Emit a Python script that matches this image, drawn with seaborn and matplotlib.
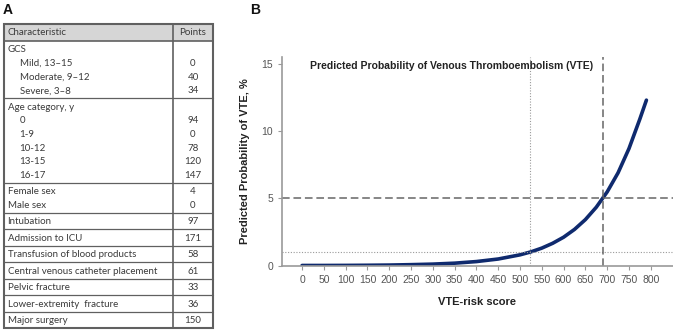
import matplotlib
matplotlib.use("Agg")
import matplotlib.pyplot as plt
import seaborn as sns
import pandas as pd
from matplotlib.patches import Rectangle

# Panel A - points table
row_labels = ["GCS", "Mild, 13\u201315", "Moderate, 9\u201312", "Severe, 3\u20138",
              "Age category, y", "0", "1-9", "10-12", "13-15", "16-17",
              "Female sex", "Male sex", "Intubation", "Admission to ICU",
              "Transfusion of blood products", "Central venous catheter placement",
              "Pelvic fracture", "Lower-extremity  fracture", "Major surgery"]
row_points = ["", "0", "40", "34", "", "94", "0", "78", "120", "147",
              "4", "0", "97", "171", "58", "61", "33", "36", "150"]
row_group = [0, 0, 0, 0, 1, 1, 1, 1, 1, 1, 2, 2, 3, 4, 5, 6, 7, 8, 9]
row_indent = [0, 1, 1, 1, 0, 1, 1, 1, 1, 1, 0, 0, 0, 0, 0, 0, 0, 0, 0]

# Panel B - predicted probability curve
vte_score = [0, 50, 100, 150, 200, 250, 300, 350, 400, 450, 500, 525, 550,
             575, 600, 625, 650, 675, 700, 725, 750, 775, 790]
vte_prob = [0.01, 0.01, 0.015, 0.025, 0.04, 0.07, 0.11, 0.18, 0.30, 0.49, 0.80,
            1.02, 1.30, 1.66, 2.11, 2.69, 3.42, 4.34, 5.48, 6.9, 8.7, 10.9, 12.3]
cut_low, cut_high = 523, 690
prob_low, prob_high = 1, 5

sns.set_style("white")
plt.rcParams['font.family'] = ['Liberation Sans', 'DejaVu Sans']

fig = plt.figure(figsize=(6.73, 3.32), dpi=100)

# ---- table ----
axA = fig.add_axes([0, 0, 1, 1])
axA.set_xlim(0, 673)
axA.set_ylim(332, 0)
axA.axis("off")

left, mid, right = 3.5, 173, 213
top, head_bot = 24, 41
txt = "#3a3a3a"
edge = "#606060"
tfont = "Lato"

axA.add_patch(Rectangle((left, top), right - left, head_bot - top, facecolor="#d6d6d6", edgecolor="none"))
axA.text(left + 4, (top + head_bot) / 2, "Characteristic", fontsize=7, family=tfont, color=txt, va="center")
axA.text((mid + right) / 2, (top + head_bot) / 2, "Points", fontsize=7, family=tfont, color=txt, va="center", ha="center")

y = head_bot
g_prev = None
row_y = y
lines = []
for lab, pts, g, ind in zip(row_labels, row_points, row_group, row_indent):
    if g != g_prev:
        if g_prev is not None:
            y = row_y + 7.5
            lines.append(y)
        row_y = y + 9
    else:
        row_y += 13.6
    g_prev = g
    axA.text(left + 4 + 12 * ind, row_y, lab, fontsize=7, family=tfont, color=txt, va="center")
    axA.text((mid + right) / 2, row_y, pts, fontsize=7, family=tfont, color=txt, va="center", ha="center")
bottom = row_y + 7.5

for ly in lines:
    axA.plot([left, right], [ly, ly], color=edge, lw=0.9)
axA.plot([left, right], [head_bot, head_bot], color=edge, lw=1.2)
axA.plot([mid, mid], [top, bottom], color=edge, lw=1.2)
axA.add_patch(Rectangle((left, top), right - left, bottom - top, facecolor="none", edgecolor=edge, lw=1.5))

axA.text(3, 10, "A", fontsize=10, fontweight="bold", va="center", color="#111111")
axA.text(250, 10, "B", fontsize=10, fontweight="bold", va="center", color="#111111")

# ---- curve ----
axB = fig.add_axes([0.419, 0.2, 0.581, 0.628])
df = pd.DataFrame({"score": vte_score, "prob": vte_prob})
sns.lineplot(data=df, x="score", y="prob", ax=axB, color="#0f2a6e", lw=2.6)

axB.axvline(cut_low, color="#9a9a9a", lw=0.8, ls=(0, (1, 1.5)))
axB.axhline(prob_low, color="#9a9a9a", lw=0.8, ls=(0, (1, 1.5)))
axB.axvline(cut_high, color="#666666", lw=1.1, ls=(0, (5, 2.5)))
axB.axhline(prob_high, color="#666666", lw=1.1, ls=(0, (5, 2.5)))

axB.set_xlim(-46, 851)
axB.set_ylim(0, 15.5)
axB.set_xticks(range(0, 801, 50))
axB.set_yticks([0, 5, 10, 15])
axB.tick_params(axis="both", labelsize=7.5, labelcolor="#555555", color="#999999",
                length=3, width=0.8, direction="out", bottom=True, left=True)
for s in ["top", "right"]:
    axB.spines[s].set_visible(False)
for s in ["left", "bottom"]:
    axB.spines[s].set_color("#9a9a9a")
    axB.spines[s].set_linewidth(1.2)

axB.text(342, 14.85, "Predicted Probability of Venous Thromboembolism (VTE)",
         fontsize=7.5, fontweight="bold", ha="center", va="center", color="#222222")
axB.set_xlabel("VTE-risk score", fontsize=8, fontweight="bold", color="#222222", labelpad=9)
axB.set_ylabel("Predicted Probability of VTE, %", fontsize=8, fontweight="bold", color="#222222", labelpad=8)

fig.savefig("out.png", dpi=100)
